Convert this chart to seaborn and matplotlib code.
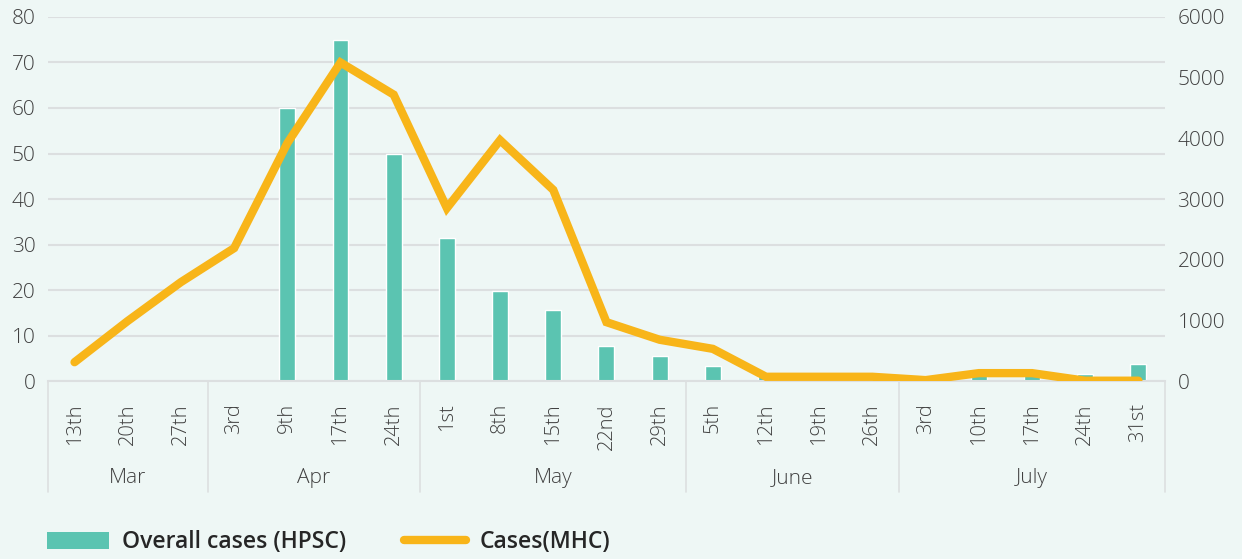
import numpy as np
import pandas as pd
import matplotlib
matplotlib.use("Agg")
import matplotlib.pyplot as plt
import matplotlib.transforms as mtransforms
from matplotlib.patches import Patch
from matplotlib.lines import Line2D
import seaborn as sns

# Chart data
months = ["Mar", "Apr", "May", "June", "July"]
days = [
    ["13th", "20th", "27th"],
    ["3rd", "9th", "17th", "24th"],
    ["1st", "8th", "15th", "22nd", "29th"],
    ["5th", "12th", "19th", "26th"],
    ["3rd", "10th", "17th", "24th", "31st"],
]
hpsc_cases = [0, 0, 0, 0, 60, 75, 50, 31.5, 19.8, 15.7, 7.6, 5.5, 3.2, 1.2, 0, 0,
              1.2, 1.6, 1.5, 1.5, 3.8]
mhc_cases = [310, 990, 1630, 2190, 3920, 5250, 4720, 2850, 3970, 3150, 970, 680,
             530, 70, 70, 70, 15, 130, 130, 5, 5]

BG = "#EEF7F5"
BAR = "#5BC4B1"
LINE = "#F8B519"
GRID = "#DCDFE0"
TXT = "#404040"

sns.set_theme(style="white")
plt.rcParams["font.family"] = ["Open Sans", "DejaVu Sans"]

day_labels = [d for group in days for d in group]
keys = [f"{m} {d}" for m, group in zip(months, days) for d in group]
df = pd.DataFrame({"key": keys, "pos": np.arange(len(keys)),
                   "hpsc": hpsc_cases, "mhc": mhc_cases})

fig = plt.figure(figsize=(12.42, 5.59), dpi=100)
fig.patch.set_facecolor(BG)
ax = fig.add_axes([0.0386, 0.3184, 0.8994, 0.6512])
ax.set_facecolor(BG)

sns.barplot(data=df, x="key", y="hpsc", color=BAR, width=0.3, saturation=1, ax=ax)
ax.set_ylim(0, 80)
ax.set_yticks(np.arange(0, 81, 10))
ax.set_xlim(-0.5, len(keys) - 0.5)
ax.yaxis.grid(True, color=GRID, linewidth=1.5)
ax.set_axisbelow(True)
ax.set_xlabel("")
ax.set_ylabel("")
ax.set_xticks(df["pos"])
ax.set_xticklabels(day_labels, rotation=90, va="top", ha="center",
                   fontsize=14.5, color=TXT, fontweight="light")
ax.tick_params(axis="x", length=0, pad=16)
ax.tick_params(axis="y", length=0, pad=9, labelsize=15, labelcolor=TXT)
for t in ax.get_yticklabels():
    t.set_fontweight("light")
for s in ["top", "right", "left"]:
    ax.spines[s].set_visible(False)
ax.spines["bottom"].set_color(GRID)
ax.spines["bottom"].set_linewidth(1.5)

ax2 = ax.twinx()
sns.lineplot(data=df, x="pos", y="mhc", color=LINE, linewidth=6, ax=ax2,
             solid_capstyle="round", solid_joinstyle="miter")
ax2.set_ylim(0, 6000)
ax2.set_yticks(np.arange(0, 6001, 1000))
ax2.set_ylabel("")
ax2.set_xlim(-0.5, len(keys) - 0.5)
ax2.tick_params(axis="y", length=0, pad=9, labelsize=15, labelcolor=TXT)
for t in ax2.get_yticklabels():
    t.set_fontweight("light")
for s in ax2.spines.values():
    s.set_visible(False)

# month group separators and labels below the axis
trans = mtransforms.blended_transform_factory(ax.transData, ax.transAxes)
counts = [len(g) for g in days]
edges = np.concatenate([[0], np.cumsum(counts)]) - 0.5
for e in edges:
    ax.plot([e, e], [0, -0.305], transform=trans, color=GRID, linewidth=1.2,
            clip_on=False)
for m, a, b in zip(months, edges[:-1], edges[1:]):
    ax.text((a + b) / 2, -0.266, m, transform=trans, ha="center", va="center",
            fontsize=15, color=TXT, fontweight="light")

handles = [Patch(facecolor=BAR, edgecolor="none"),
           Line2D([], [], color=LINE, linewidth=6, solid_capstyle="round")]
leg = fig.legend(handles, ["Overall cases (HPSC)", "Cases(MHC)"], ncol=2,
                 loc="center left", bbox_to_anchor=(0.0378, 0.03), frameon=False,
                 borderaxespad=0, borderpad=0,
                 handlelength=2.7, handleheight=0.8, handletextpad=0.59,
                 columnspacing=2.5, prop={"weight": "semibold", "size": 16.5})
for t in leg.get_texts():
    t.set_color("#262626")

fig.savefig("out.png", dpi=100, facecolor=BG)
